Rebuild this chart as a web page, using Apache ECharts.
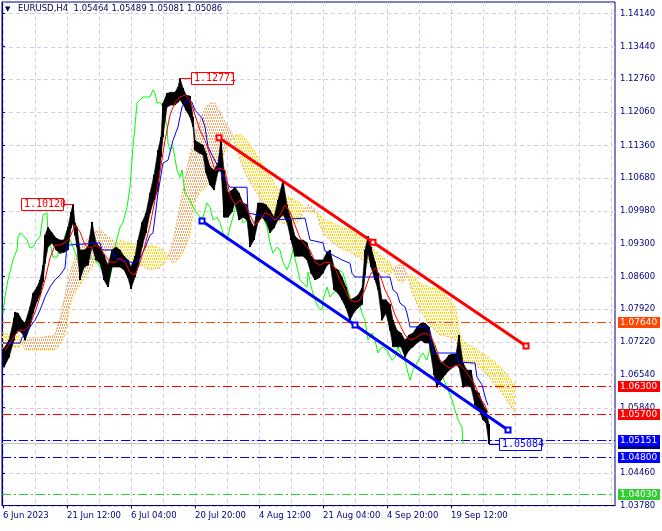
<!DOCTYPE html>
<html><head><meta charset="utf-8">
<script src="https://cdn.jsdelivr.net/npm/echarts@6/dist/echarts.min.js"></script>
<style>html,body{margin:0;padding:0;background:#fff}#c{width:662px;height:531px}</style>
</head><body><div id="c"></div>
<script>
// ---------- DATA ----------
const symbolName = 'EURUSD,H4';
const lastOHLC = [1.05464, 1.05489, 1.05081, 1.05086];
const timeLabels = ['6 Jun 2023','21 Jun 12:00','6 Jul 04:00','20 Jul 20:00','4 Aug 12:00','21 Aug 04:00','4 Sep 20:00','19 Sep 12:00'];
const timeTickIdx = [1,65,129,193,257,321,385,449];
const gridTimeIdx = [1,33,65,97,129,161,193,225,257,289,321,353,385,417,449,481,513,545,577,609];
const priceTicks = [1.14140,1.13440,1.12760,1.12060,1.11360,1.10680,1.09980,1.09300,1.08600,1.07920,1.07220,1.06540,1.05840,1.05160,1.04460,1.03780];

// [bar index, low, high]
const priceBars = [
[2,1.0669,1.0709],[7,1.0690,1.0726],[12,1.0726,1.0773],[13,1.0737,1.0785],[16,1.0747,1.0783],[20,1.0741,1.0768],
[23,1.0726,1.0762],[28,1.0754,1.0796],[31,1.0783,1.0825],[35,1.0808,1.0838],[38,1.0821,1.0853],[41,1.0849,1.0884],
[43,1.0888,1.0947],[46,1.0922,1.0964],[50,1.0931,1.0952],[54,1.0916,1.0941],[58,1.0909,1.0937],[62,1.0911,1.0937],
[66,1.0916,1.0964],[69,1.0962,1.0996],[71,1.0973,1.1012],[73,1.0947,1.0973],[75,1.0922,1.0964],[78,1.0853,1.0916],
[82,1.0880,1.0916],[86,1.0884,1.0922],[90,1.0922,1.0975],[94,1.0895,1.0931],[98,1.0888,1.0922],[102,1.0853,1.0905],
[106,1.0838,1.0884],[110,1.0880,1.0916],[114,1.0880,1.0922],[118,1.0880,1.0916],[122,1.0874,1.0903],[126,1.0857,1.0895],
[129,1.0834,1.0880],[133,1.0859,1.0903],[136,1.0880,1.0937],[140,1.0922,1.0974],[144,1.0952,1.0994],[148,1.0994,1.1036],
[152,1.1021,1.1074],[156,1.1042,1.1126],[159,1.1112,1.1154],[161,1.1154,1.1225],[165,1.1217,1.1246],[169,1.1221,1.1248],
[173,1.1221,1.1248],[176,1.1227,1.1259],[178,1.1232,1.1277],[181,1.1223,1.1257],[184,1.1210,1.1242],[188,1.1196,1.1240],
[191,1.1175,1.1196],[193,1.1126,1.1147],[197,1.1120,1.1141],[201,1.1116,1.1137],[204,1.1078,1.1120],[208,1.1053,1.1091],
[212,1.1042,1.1084],[216,1.1080,1.1099],[219,1.1084,1.1149],[222,1.0985,1.1084],[226,1.0985,1.1036],[230,1.0996,1.1042],
[233,1.1015,1.1048],[237,1.0979,1.1036],[241,1.0985,1.1015],[245,1.0979,1.1011],[248,1.0922,1.0979],[252,1.0937,1.0964],
[256,1.0974,1.1015],[260,1.0985,1.1015],[264,1.0975,1.1011],[268,1.0952,1.1000],[272,1.0962,1.0985],[276,1.0979,1.1021],
[281,1.0990,1.1063],[285,1.0975,1.1011],[289,1.0937,1.0979],[293,1.0903,1.0945],[297,1.0903,1.0937],[301,1.0903,1.0937],
[305,1.0895,1.0931],[309,1.0867,1.0903],[313,1.0853,1.0895],[317,1.0857,1.0895],[321,1.0867,1.0895],[325,1.0884,1.0911],
[328,1.0888,1.0916],[332,1.0832,1.0880],[336,1.0825,1.0874],[340,1.0811,1.0859],[344,1.0794,1.0838],[348,1.0768,1.0811],
[352,1.0785,1.0815],[356,1.0794,1.0821],[360,1.0801,1.0836],[363,1.0863,1.0916],[366,1.0909,1.0945],[369,1.0880,1.0922],
[373,1.0853,1.0891],[376,1.0832,1.0867],[380,1.0768,1.0811],[384,1.0783,1.0811],[388,1.0747,1.0801],[391,1.0712,1.0768],
[395,1.0712,1.0747],[399,1.0712,1.0741],[403,1.0690,1.0726],[407,1.0705,1.0737],[411,1.0712,1.0741],[415,1.0720,1.0754],
[419,1.0726,1.0762],[423,1.0720,1.0762],[427,1.0720,1.0754],[432,1.0653,1.0712],[435,1.0627,1.0695],[439,1.0642,1.0678],
[443,1.0653,1.0684],[447,1.0663,1.0695],[451,1.0669,1.0697],[454,1.0674,1.0697],[457,1.0669,1.0737],[461,1.0627,1.0678],
[465,1.0631,1.0663],[469,1.0627,1.0663],[473,1.0590,1.0621],[477,1.0579,1.0615],[481,1.0558,1.0590],[484,1.0552,1.0579],
[487,1.0508,1.0549]
];

const tenkan = [
[3,1.0705],[8,1.0720],[13,1.0737],[18,1.0747],[23,1.0747],[28,1.0758],[33,1.0785],[38,1.0817],[43,1.0853],[48,1.0899],
[53,1.0926],[58,1.0926],[63,1.0931],[68,1.0943],[73,1.0968],[78,1.0954],[83,1.0926],[88,1.0920],[93,1.0926],[98,1.0920],
[103,1.0905],[108,1.0890],[113,1.0890],[118,1.0899],[123,1.0890],[128,1.0869],[133,1.0863],[138,1.0890],[143,1.0926],
[148,1.0968],[153,1.1021],[158,1.1080],[163,1.1147],[168,1.1200],[173,1.1227],[178,1.1238],[183,1.1242],[188,1.1232],
[193,1.1200],[198,1.1168],[203,1.1147],[208,1.1116],[213,1.1084],[218,1.1088],[223,1.1084],[228,1.1031],[233,1.1011],
[238,1.1021],[243,1.1011],[248,1.0989],[253,1.0968],[258,1.0979],[263,1.0994],[268,1.0989],[273,1.0979],[278,1.0989],
[283,1.1011],[288,1.0996],[293,1.0968],[298,1.0941],[303,1.0926],[308,1.0916],[313,1.0890],[318,1.0884],[323,1.0890],
[328,1.0890],[333,1.0878],[338,1.0853],[343,1.0832],[348,1.0811],[353,1.0806],[358,1.0811],[363,1.0832],[368,1.0863],
[373,1.0878],[378,1.0863],[383,1.0832],[388,1.0811],[393,1.0779],[398,1.0758],[403,1.0737],[408,1.0726],[413,1.0730],
[418,1.0737],[423,1.0741],[428,1.0737],[433,1.0716],[438,1.0684],[443,1.0674],[448,1.0667],[453,1.0672],[458,1.0674],
[463,1.0663],[468,1.0648],[473,1.0632],[478,1.0604],[483,1.0589],[486,1.0573]
];

const kijun = [
[1,1.0720],[18,1.0720],[20,1.0731],[28,1.0754],[33,1.0768],[38,1.0789],[43,1.0817],[48,1.0838],[53,1.0853],[58,1.0863],
[63,1.0878],[65,1.0926],[98,1.0931],[100,1.0916],[110,1.0916],[113,1.0899],[133,1.0888],[138,1.0899],[143,1.0920],
[148,1.0947],[151,1.0952],[156,1.1036],[161,1.1099],[166,1.1105],[171,1.1147],[176,1.1175],[180,1.1217],[185,1.1232],
[190,1.1227],[193,1.1210],[200,1.1194],[203,1.1175],[206,1.1133],[211,1.1112],[218,1.1084],[225,1.1057],[228,1.1048],
[245,1.1048],[246,1.0994],[265,1.0985],[268,1.0979],[303,1.0983],[305,1.0964],[308,1.0937],[321,1.0931],[323,1.0914],
[340,1.0895],[348,1.0888],[350,1.0867],[353,1.0859],[388,1.0859],[391,1.0832],[395,1.0825],[398,1.0804],[403,1.0796],
[405,1.0783],[408,1.0754],[425,1.0754],[428,1.0741],[431,1.0699],[455,1.0699],[456,1.0680],[473,1.0678],[475,1.0648],
[480,1.0632],[484,1.0600],[486,1.0589]
];

const chikou = [
[1,1.0783],[3,1.0817],[6,1.0853],[11,1.0895],[15,1.0916],[16,1.0943],[18,1.0952],[21,1.0947],[25,1.0937],[28,1.0920],
[31,1.0922],[35,1.0937],[38,1.0943],[41,1.0989],[45,1.0994],[46,1.0952],[48,1.0931],[51,1.0901],[55,1.0901],[58,1.0922],
[61,1.0931],[65,1.0958],[68,1.0937],[71,1.0922],[76,1.0895],[80,1.0867],[85,1.0895],[88,1.0901],[93,1.0895],[98,1.0880],
[103,1.0867],[106,1.0838],[110,1.0880],[113,1.0922],[118,1.0964],[121,1.0973],[125,1.1006],[128,1.1048],[131,1.1133],
[135,1.1225],[138,1.1232],[141,1.1238],[148,1.1238],[151,1.1253],[153,1.1246],[155,1.1225],[158,1.1227],[161,1.1217],
[165,1.1175],[166,1.1141],[168,1.1126],[171,1.1133],[175,1.1084],[178,1.1069],[180,1.1084],[183,1.1036],[188,1.1021],
[191,1.1006],[198,1.0985],[201,1.0985],[205,1.1015],[208,1.1006],[211,1.0979],[215,1.0985],[218,1.0973],[221,1.0952],
[225,1.0937],[228,1.0964],[231,1.0985],[235,1.1021],[238,1.0994],[241,1.0973],[245,1.0979],[248,1.0964],[251,1.0952],
[255,1.0994],[258,1.1015],[261,1.0985],[265,1.0964],[268,1.0931],[271,1.0909],[275,1.0922],[278,1.0916],[281,1.0890],
[285,1.0874],[288,1.0890],[291,1.0916],[295,1.0880],[298,1.0853],[301,1.0846],[305,1.0838],[306,1.0869],[310,1.0832],
[313,1.0811],[316,1.0796],[320,1.0789],[321,1.0811],[325,1.0838],[328,1.0817],[331,1.0825],[335,1.0832],[338,1.0874],
[341,1.0867],[343,1.0853],[345,1.0838],[348,1.0817],[350,1.0804],[353,1.0796],[356,1.0811],[360,1.0783],[363,1.0768],
[365,1.0741],[366,1.0726],[370,1.0741],[373,1.0726],[376,1.0699],[380,1.0712],[385,1.0705],[390,1.0684],[393,1.0690],
[396,1.0712],[400,1.0690],[403,1.0684],[406,1.0657],[408,1.0642],[411,1.0663],[415,1.0678],[418,1.0690],[421,1.0699],
[425,1.0684],[428,1.0709],[431,1.0720],[435,1.0695],[438,1.0669],[442,1.0642],[446,1.0621],[450,1.0600],[453,1.0579],
[456,1.0558],[460,1.0543],[461,1.0509]
];

const cloudIdx = [0,18,23,38,53,58,63,68,73,78,83,88,93,98,103,108,113,118,123,128,138,148,158,163,166,170,173,178,183,188,
193,198,203,208,213,218,223,228,231,233,238,243,248,253,258,263,268,273,278,283,288,293,298,302,306,311,315,318,323,328,
338,348,358,368,378,388,391,395,401,406,410,418,428,438,448,454,458,463,473,483,493,503,513];
const spanA = [1.0709,1.0712,1.0731,1.0731,1.0737,1.0773,1.0821,1.0869,1.0899,1.0920,1.0933,1.0945,1.0954,1.0958,1.0949,
1.0941,1.0933,1.0912,1.0899,1.0890,1.0884,1.0874,1.0878,1.0890,1.0903,1.0926,1.0954,1.1011,1.1067,1.1116,1.1158,1.1189,
1.1215,1.1225,1.1225,1.1206,1.1185,1.1168,1.1156,1.1137,1.1105,1.1080,1.1059,1.1042,1.1025,1.1011,1.0996,1.0983,1.0975,
1.0971,1.0968,1.0971,1.0979,1.1000,1.1011,1.1006,1.0994,1.0966,1.0947,1.0937,1.0920,1.0912,1.0899,1.0886,1.0874,1.0863,
1.0876,1.0884,1.0884,1.0861,1.0827,1.0789,1.0758,1.0737,1.0733,1.0726,1.0695,1.0680,1.0674,1.0659,1.0632,1.0606,1.0573];
const spanB = [1.0741,1.0735,1.0705,1.0705,1.0705,1.0716,1.0737,1.0800,1.0827,1.0842,1.0857,1.0874,1.0890,1.0905,1.0912,
1.0916,1.0922,1.0937,1.0933,1.0931,1.0926,1.0926,1.0920,1.0912,1.0899,1.0890,1.0890,1.0899,1.0920,1.0947,1.1021,1.1038,
1.1046,1.1063,1.1080,1.1101,1.1122,1.1143,1.1154,1.1158,1.1160,1.1152,1.1137,1.1122,1.1105,1.1088,1.1074,1.1053,1.1042,
1.1031,1.1027,1.1021,1.1015,1.1004,1.0994,1.0994,1.0994,1.0989,1.0979,1.0975,1.0966,1.0958,1.0945,1.0926,1.0905,1.0890,
1.0876,1.0853,1.0848,1.0861,1.0865,1.0846,1.0838,1.0832,1.0811,1.0794,1.0737,1.0720,1.0709,1.0695,1.0680,1.0659,1.0632];

const channelUpper = [[217,1.1152],[371,1.0932],[524,1.0714]];
const channelLower = [[200,1.0977],[353,1.0758],[506,1.0537]];

const levelPrices = [1.07640, 1.06300, 1.05700, 1.05151, 1.04800, 1.04030];
const levelColors = ['#FF4500', '#FF0000', '#FF0000', '#0000FF', '#0000FF', '#32CD32'];
const bidPrice = 1.05086;

const annotIdx = [178, 71, 486];
const annotPrice = [1.12771, 1.10120, 1.05084];
const annotSide = ['right', 'left', 'right'];
const annotColor = ['#FF0000', '#FF0000', '#0000FF'];

// ---------- STYLE ----------
const NAVY = '#000080';
const GRID_COLOR = '#cfcfea';
const AXIS_FONT = 'DejaVu Sans';
const KUMO_UP = '#F4A460';
const KUMO_DN = '#FFD700';

function makeHatch(color) {
  const c = document.createElement('canvas');
  c.width = 2; c.height = 6;
  const g = c.getContext('2d');
  g.fillStyle = color;
  g.fillRect(0, 0, 1, 2);
  g.fillRect(1, 3, 1, 2);
  return { image: c, repeat: 'repeat' };
}
const hatchUp = makeHatch(KUMO_UP);
const hatchDn = makeHatch(KUMO_DN);

const chart = echarts.init(document.getElementById('c'), null, { renderer: 'canvas' });

function renderGrid(params, api) {
  const cs = params.coordSys;
  const ch = [];
  gridTimeIdx.forEach(v => {
    const x = Math.round(api.coord([v, priceTicks[0]])[0]) + 0.5;
    ch.push({ type: 'line', shape: { x1: x, y1: cs.y, x2: x, y2: cs.y + cs.height },
      style: { stroke: GRID_COLOR, lineWidth: 1, lineDash: [4, 3] } });
  });
  priceTicks.forEach(p => {
    const y = Math.round(api.coord([0, p])[1]) + 0.5;
    ch.push({ type: 'line', shape: { x1: cs.x, y1: y, x2: cs.x + cs.width, y2: y },
      style: { stroke: GRID_COLOR, lineWidth: 1, lineDash: [4, 3] } });
  });
  return { type: 'group', children: ch };
}

function renderCloud(params, api) {
  const i = params.dataIndex;
  if (i >= cloudIdx.length - 1) return null;
  const x0 = cloudIdx[i], x1 = cloudIdx[i + 1];
  const a0 = spanA[i], b0 = spanB[i], a1 = spanA[i + 1], b1 = spanB[i + 1];
  const d0 = a0 - b0, d1 = a1 - b1;
  const P = (x, y) => api.coord([x, y]);
  const poly = (pts, up) => ({ type: 'polygon', shape: { points: pts }, style: { fill: up ? hatchUp : hatchDn } });
  const ch = [];
  if (d0 * d1 >= 0) {
    ch.push(poly([P(x0, a0), P(x1, a1), P(x1, b1), P(x0, b0)], (d0 + d1) >= 0));
  } else {
    const t = d0 / (d0 - d1);
    const xc = x0 + t * (x1 - x0), yc = a0 + t * (a1 - a0);
    ch.push(poly([P(x0, a0), P(xc, yc), P(x0, b0)], d0 > 0));
    ch.push(poly([P(xc, yc), P(x1, a1), P(x1, b1)], d1 > 0));
  }
  return { type: 'group', children: ch };
}

function renderPrice(params, api) {
  const i = params.dataIndex;
  const cur = priceBars[i];
  const top = api.coord([cur[0], cur[2]]);
  const bot = api.coord([cur[0], cur[1]]);
  const ch = [{ type: 'rect', shape: { x: top[0] - 1, y: top[1], width: 2, height: Math.max(1, bot[1] - top[1]) },
    style: { fill: '#000' } }];
  if (i < priceBars.length - 1) {
    const nx = priceBars[i + 1];
    const t2 = api.coord([nx[0], nx[2]]);
    const b2 = api.coord([nx[0], nx[1]]);
    ch.push({ type: 'polygon', shape: { points: [top, t2, b2, bot] }, style: { fill: '#000', stroke: '#000', lineWidth: 0.6 } });
  }
  return { type: 'group', children: ch };
}

function levelItem(cs, y, color, dash, text, boxColor) {
  const yy = Math.round(y) + 0.5;
  const bx = cs.x + cs.width + 3;
  const els = [
    { type: 'line', shape: { x1: cs.x, y1: yy, x2: cs.x + cs.width, y2: yy },
      style: { stroke: color, lineWidth: 1, lineDash: dash } }
  ];
  if (text) {
    els.push({ type: 'rect', shape: { x: bx, y: Math.round(y) - 5, width: 42, height: 11 }, style: { fill: boxColor } });
    els.push({ type: 'text', x: bx + 2, y: Math.round(y) + 0.5,
      style: { text: text, fill: '#fff', font: '9px ' + AXIS_FONT, textVerticalAlign: 'middle', textAlign: 'left' } });
  }
  return els;
}

function renderLevels(params, api) {
  const cs = params.coordSys;
  let ch = [];
  const by = api.coord([0, bidPrice])[1];
  ch = ch.concat(levelItem(cs, by, '#C0C0C0', null, bidPrice.toFixed(5), NAVY));
  levelPrices.forEach((p, k) => {
    const y = api.coord([0, p])[1];
    ch = ch.concat(levelItem(cs, y, levelColors[k], [9, 3, 2, 3], p.toFixed(5), levelColors[k]));
  });
  return { type: 'group', children: ch };
}

function renderAnnot(params, api) {
  const ch = [];
  annotIdx.forEach((ix, k) => {
    const p = api.coord([ix, annotPrice[k]]);
    const y = Math.round(p[1]) + 0.5;
    const w = 42, h = 12;
    let bx, lx1, lx2;
    if (annotSide[k] === 'right') { lx1 = p[0] + 1; lx2 = p[0] + 11; bx = lx2; }
    else { lx1 = p[0] - 10; lx2 = p[0]; bx = lx1 - w; }
    ch.push({ type: 'line', shape: { x1: lx1, y1: y, x2: lx2, y2: y }, style: { stroke: annotColor[k], lineWidth: 1 } });
    ch.push({ type: 'rect', shape: { x: Math.round(bx) + 0.5, y: Math.round(p[1]) - 5.5, width: w, height: h },
      style: { fill: '#fff', stroke: annotColor[k], lineWidth: 1 } });
    ch.push({ type: 'text', x: Math.round(bx) + 3, y: Math.round(p[1]) + 0.5,
      style: { text: annotPrice[k].toFixed(5), fill: annotColor[k], font: '10px DejaVu Sans Mono', textVerticalAlign: 'middle' } });
  });
  return { type: 'group', children: ch };
}

const option = {
  animation: false,
  backgroundColor: '#fff',
  grid: { left: 2, right: 47, top: 2, bottom: 25.5, show: true, borderColor: NAVY, borderWidth: 1, backgroundColor: 'transparent' },
  xAxis: {
    type: 'value', min: 0, max: 613,
    axisLine: { show: true, lineStyle: { color: NAVY } },
    axisTick: { show: true, customValues: timeTickIdx, length: 3, lineStyle: { color: NAVY } },
    axisLabel: { customValues: timeTickIdx, align: 'left', margin: 6, color: NAVY, fontFamily: AXIS_FONT, fontSize: 8.5,
      formatter: v => { const k = timeTickIdx.indexOf(Math.round(v)); return k >= 0 ? timeLabels[k] : ''; } },
    splitLine: { show: false }
  },
  yAxis: {
    type: 'value', position: 'right', min: 1.0378, max: 1.1438,
    axisLine: { show: true, lineStyle: { color: NAVY } },
    axisTick: { show: true, customValues: priceTicks, length: 3, lineStyle: { color: NAVY } },
    axisLabel: { customValues: priceTicks, margin: 5, color: NAVY, fontFamily: AXIS_FONT, fontSize: 8.5,
      formatter: v => v.toFixed(5) },
    splitLine: { show: false }
  },
  graphic: [
    { type: 'text', left: 5, top: 6, style: { text: '\u25BC', font: '7px DejaVu Sans', fill: '#000050' } },
    { type: 'text', left: 18, top: 4, style: { text: symbolName + '  ' + lastOHLC.map(v => v.toFixed(5)).join(' '),
      font: '8.5px DejaVu Sans', fill: '#000050' } }
  ],
  series: [
    { type: 'custom', name: 'grid', silent: true, z: 0, data: [[0, 1.09]], encode: { x: 0, y: 1 }, renderItem: renderGrid },
    { type: 'custom', name: 'kumo', silent: true, z: 1,
      data: cloudIdx.map((x, k) => [x, spanA[k], spanB[k]]), encode: { x: 0, y: [1, 2] }, renderItem: renderCloud },
    { type: 'line', name: 'Senkou Span A', silent: true, z: 1, symbol: 'none',
      data: cloudIdx.map((x, k) => [x, spanA[k]]), lineStyle: { color: KUMO_UP, width: 1, type: [2, 2] } },
    { type: 'line', name: 'Senkou Span B', silent: true, z: 1, symbol: 'none',
      data: cloudIdx.map((x, k) => [x, spanB[k]]), lineStyle: { color: KUMO_DN, width: 1, type: [2, 2] } },
    { type: 'custom', name: 'levels', silent: true, z: 2, data: [[0, 1.09]], encode: { x: 0, y: 1 }, renderItem: renderLevels },
    { type: 'line', name: 'Chikou', silent: true, z: 3, symbol: 'none', data: chikou, lineStyle: { color: '#00FF00', width: 1 } },
    { type: 'custom', name: 'price', silent: true, z: 4, data: priceBars, encode: { x: 0, y: [1, 2] }, renderItem: renderPrice },
    { type: 'line', name: 'Kijun', silent: true, z: 5, symbol: 'none', data: kijun, lineStyle: { color: '#0000FF', width: 1 } },
    { type: 'line', name: 'Tenkan', silent: true, z: 5, symbol: 'none', data: tenkan, lineStyle: { color: '#FF0000', width: 1 } },
    { type: 'line', name: 'Channel upper', silent: true, z: 6, data: channelUpper, symbol: 'rect', symbolSize: 5,
      itemStyle: { color: '#fff', borderColor: '#FF0000', borderWidth: 2 }, lineStyle: { color: '#FF0000', width: 3 } },
    { type: 'line', name: 'Channel lower', silent: true, z: 6, data: channelLower, symbol: 'rect', symbolSize: 5,
      itemStyle: { color: '#fff', borderColor: '#0000FF', borderWidth: 2 }, lineStyle: { color: '#0000FF', width: 3 } },
    { type: 'custom', name: 'labels', silent: true, z: 7, data: [[0, 1.09]], encode: { x: 0, y: 1 }, renderItem: renderAnnot }
  ]
};
chart.setOption(option);
</script>
</body></html>
